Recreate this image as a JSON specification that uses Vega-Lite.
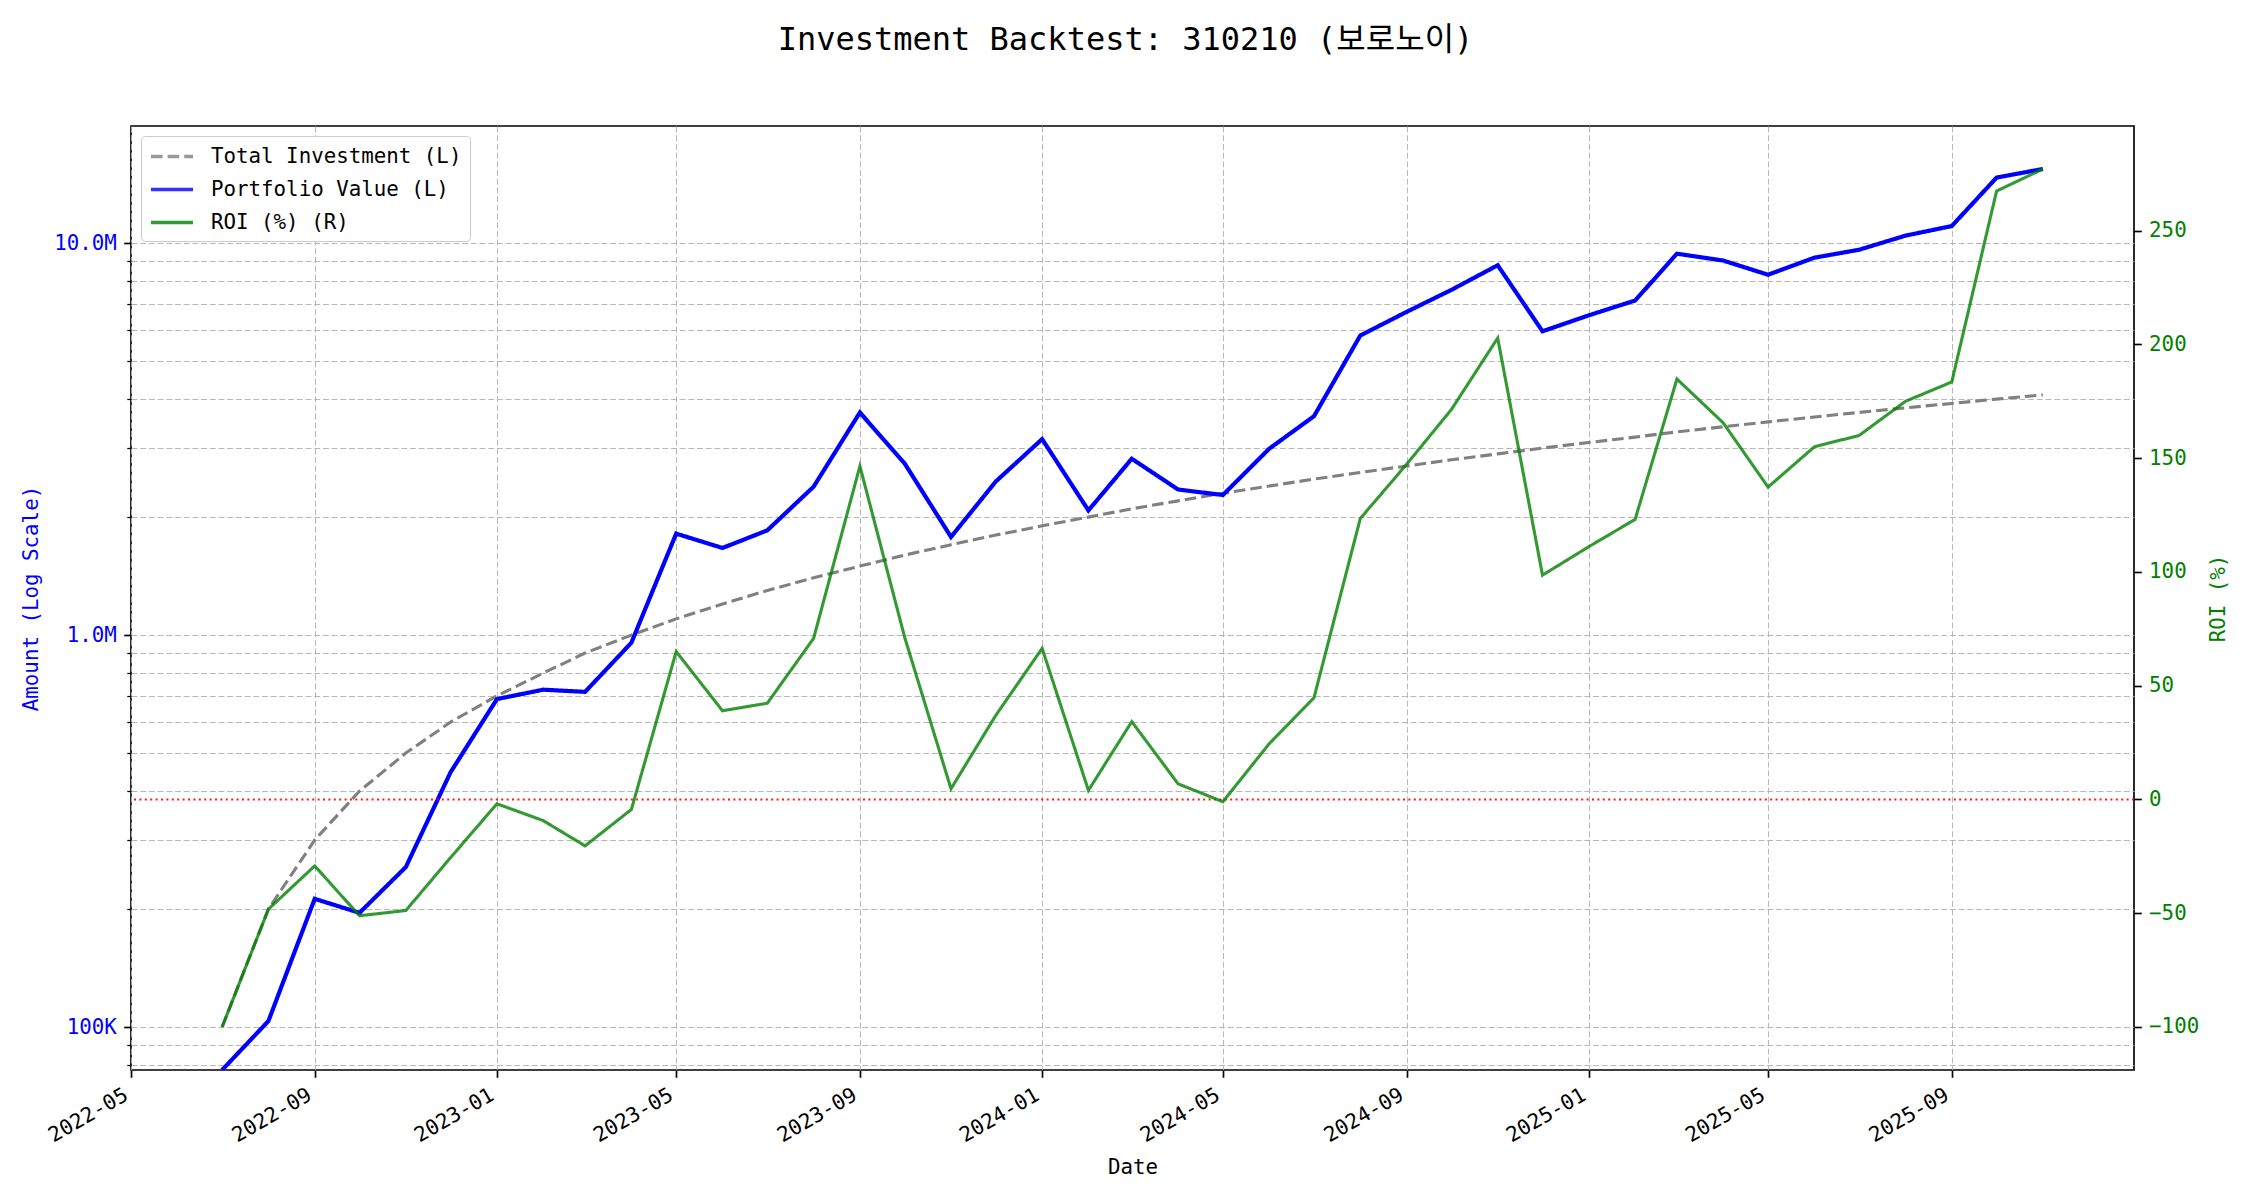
{
  "$schema": "https://vega.github.io/schema/vega-lite/v6.json",
  "width": 2003,
  "height": 944,
  "autosize": {"type": "none"},
  "padding": {"left": 131, "top": 126, "right": 116, "bottom": 130},
  "background": "#ffffff",
  "title": {
    "text": "Investment Backtest: 310210 (보로노이)",
    "font": "DejaVu Sans Mono, Noto Sans CJK KR",
    "fontSize": 32,
    "fontWeight": "normal",
    "color": "#000000",
    "anchor": "middle",
    "frame": "group",
    "baseline": "alphabetic",
    "offset": 44,
    "dx": -7
  },
  "data": {
    "values": [
      {"date": "2022-07-01", "invest": 100000, "portfolio": 0, "roi": -100},
      {"date": "2022-08-01", "invest": 200000, "portfolio": 103600, "roi": -48.2},
      {"date": "2022-09-01", "invest": 300000, "portfolio": 212400, "roi": -29.2},
      {"date": "2022-10-01", "invest": 400000, "portfolio": 195600, "roi": -51.1},
      {"date": "2022-11-01", "invest": 500000, "portfolio": 256000, "roi": -48.8},
      {"date": "2022-12-01", "invest": 600000, "portfolio": 447000, "roi": -25.5},
      {"date": "2023-01-01", "invest": 700000, "portfolio": 686700, "roi": -1.9},
      {"date": "2023-02-01", "invest": 800000, "portfolio": 725600, "roi": -9.3},
      {"date": "2023-03-01", "invest": 900000, "portfolio": 716400, "roi": -20.4},
      {"date": "2023-04-01", "invest": 1000000, "portfolio": 956000, "roi": -4.4},
      {"date": "2023-05-01", "invest": 1100000, "portfolio": 1815000, "roi": 65.0},
      {"date": "2023-06-01", "invest": 1200000, "portfolio": 1668000, "roi": 39.0},
      {"date": "2023-07-01", "invest": 1300000, "portfolio": 1850000, "roi": 42.3},
      {"date": "2023-08-01", "invest": 1400000, "portfolio": 2391000, "roi": 70.8},
      {"date": "2023-09-01", "invest": 1500000, "portfolio": 3698000, "roi": 146.5},
      {"date": "2023-10-01", "invest": 1600000, "portfolio": 2739000, "roi": 71.2},
      {"date": "2023-11-01", "invest": 1700000, "portfolio": 1780000, "roi": 4.7},
      {"date": "2023-12-01", "invest": 1800000, "portfolio": 2466000, "roi": 37.0},
      {"date": "2024-01-01", "invest": 1900000, "portfolio": 3162000, "roi": 66.4},
      {"date": "2024-02-01", "invest": 2000000, "portfolio": 2080000, "roi": 4.0},
      {"date": "2024-03-01", "invest": 2100000, "portfolio": 2818000, "roi": 34.2},
      {"date": "2024-04-01", "invest": 2200000, "portfolio": 2352000, "roi": 6.9},
      {"date": "2024-05-01", "invest": 2300000, "portfolio": 2277000, "roi": -1.0},
      {"date": "2024-06-01", "invest": 2400000, "portfolio": 2988000, "roi": 24.5},
      {"date": "2024-07-01", "invest": 2500000, "portfolio": 3618000, "roi": 44.7},
      {"date": "2024-08-01", "invest": 2600000, "portfolio": 5811000, "roi": 123.5},
      {"date": "2024-09-01", "invest": 2700000, "portfolio": 6677000, "roi": 147.3},
      {"date": "2024-10-01", "invest": 2800000, "portfolio": 7599000, "roi": 171.4},
      {"date": "2024-11-01", "invest": 2900000, "portfolio": 8781000, "roi": 202.8},
      {"date": "2024-12-01", "invest": 3000000, "portfolio": 5958000, "roi": 98.6},
      {"date": "2025-01-01", "invest": 3100000, "portfolio": 6544000, "roi": 111.1},
      {"date": "2025-02-01", "invest": 3200000, "portfolio": 7139000, "roi": 123.1},
      {"date": "2025-03-01", "invest": 3300000, "portfolio": 9398000, "roi": 184.8},
      {"date": "2025-04-01", "invest": 3400000, "portfolio": 9027000, "roi": 165.5},
      {"date": "2025-05-01", "invest": 3500000, "portfolio": 8306000, "roi": 137.3},
      {"date": "2025-06-01", "invest": 3600000, "portfolio": 9180000, "roi": 155.0},
      {"date": "2025-07-01", "invest": 3700000, "portfolio": 9620000, "roi": 160.0},
      {"date": "2025-08-01", "invest": 3800000, "portfolio": 10450000, "roi": 175.0},
      {"date": "2025-09-01", "invest": 3900000, "portfolio": 11057000, "roi": 183.5},
      {"date": "2025-10-01", "invest": 4000000, "portfolio": 14696000, "roi": 267.4},
      {"date": "2025-11-01", "invest": 4100000, "portfolio": 15461000, "roi": 277.1}
    ]
  },
  "layer": [
    {
      "layer": [
        {
          "mark": {"type": "line", "strokeWidth": 3.1, "clip": true},
          "encoding": {
            "x": {
              "field": "date", "type": "temporal",
              "scale": {"type": "utc", "domain": [{"year": 2022, "month": 5, "date": 1, "utc": true}, {"year": 2026, "month": 1, "date": 1, "utc": true}]},
              "axis": {
                "title": "Date", "titleFontSize": 20.8, "titleFontWeight": "normal", "titleColor": "#000000", "titlePadding": 12,
                "values": [
                  {"year": 2022, "month": 5, "date": 1, "utc": true},
                  {"year": 2022, "month": 9, "date": 1, "utc": true},
                  {"year": 2023, "month": 1, "date": 1, "utc": true},
                  {"year": 2023, "month": 5, "date": 1, "utc": true},
                  {"year": 2023, "month": 9, "date": 1, "utc": true},
                  {"year": 2024, "month": 1, "date": 1, "utc": true},
                  {"year": 2024, "month": 5, "date": 1, "utc": true},
                  {"year": 2024, "month": 9, "date": 1, "utc": true},
                  {"year": 2025, "month": 1, "date": 1, "utc": true},
                  {"year": 2025, "month": 5, "date": 1, "utc": true},
                  {"year": 2025, "month": 9, "date": 1, "utc": true}
                ],
                "format": "%Y-%m",
                "labelAngle": -30, "labelAlign": "right", "labelBaseline": "top", "labelOffset": -10,
                "labelFontSize": 20.8, "labelColor": "#000000", "labelPadding": 7.3,
                "labelFlush": false, "labelOverlap": false, "labelBound": false,
                "tickSize": 7.3, "tickWidth": 1.67, "tickColor": "#000000",
                "domain": false,
                "grid": true, "gridColor": "#b0b0b0", "gridDash": [6, 2.7], "gridWidth": 1, "gridOpacity": 0.9
              }
            },
            "y": {
              "field": "invest", "type": "quantitative",
              "scale": {"type": "log", "domain": [77700, 19900000], "clamp": true},
              "axis": {
                "title": "Amount (Log Scale)", "titleColor": "#0000ff", "titleFontSize": 20.8, "titleFontWeight": "normal", "titlePadding": 12,
                "values": [80000, 90000, 100000, 200000, 300000, 400000, 500000, 600000, 700000, 800000, 900000, 1000000, 2000000, 3000000, 4000000, 5000000, 6000000, 7000000, 8000000, 9000000, 10000000],
                "labelExpr": "datum.value == 100000 ? '100K' : datum.value == 1000000 ? '1.0M' : datum.value == 10000000 ? '10.0M' : ''",
                "labelColor": "#0000ff", "labelFontSize": 20.8, "labelPadding": 7.3,
                "labelOverlap": false, "labelFlush": false, "labelBound": false,
                "tickSize": {"condition": {"test": "datum.value == 100000 || datum.value == 1000000 || datum.value == 10000000", "value": 7.3}, "value": 4.2},
                "tickWidth": {"condition": {"test": "datum.value == 100000 || datum.value == 1000000 || datum.value == 10000000", "value": 1.67}, "value": 1.25},
                "tickColor": "#000000",
                "domain": false,
                "grid": true, "gridColor": "#b0b0b0", "gridDash": [6, 2.7], "gridWidth": 1, "gridOpacity": 0.9
              }
            },
            "color": {
              "datum": "Total Investment (L)", "type": "nominal",
              "scale": {"domain": ["Total Investment (L)", "Portfolio Value (L)", "ROI (%) (R)"], "range": ["#808080", "#0000ff", "#008000"]},
              "legend": {
                "orient": "top-left", "offset": 10, "title": null,
                "symbolType": "M-1,0H3", "symbolSize": 441, "symbolStrokeWidth": 3.3,
                "labelFontSize": 20.8, "labelColor": "#000000", "labelOffset": 37, "labelLimit": 500,
                "fillColor": "#ffffff", "strokeColor": "#cccccc", "cornerRadius": 4,
                "padding": 8, "rowPadding": 10
              }
            },
            "strokeDash": {
              "datum": "Total Investment (L)", "type": "nominal",
              "scale": {"domain": ["Total Investment (L)", "Portfolio Value (L)", "ROI (%) (R)"], "range": [[11.6, 5], [1, 0], [1, 0]]},
              "legend": {
                "orient": "top-left", "offset": 10, "title": null,
                "symbolType": "M-1,0H3", "symbolSize": 441, "symbolStrokeWidth": 3.3,
                "labelFontSize": 20.8, "labelColor": "#000000", "labelOffset": 37, "labelLimit": 500,
                "fillColor": "#ffffff", "strokeColor": "#cccccc", "cornerRadius": 4,
                "padding": 8, "rowPadding": 10
              }
            }
          }
        },
        {
          "mark": {"type": "line", "strokeWidth": 4.2, "clip": true},
          "encoding": {
            "x": {"field": "date", "type": "temporal"},
            "y": {"field": "portfolio", "type": "quantitative", "scale": {"type": "log", "domain": [77700, 19900000], "clamp": true}},
            "color": {"datum": "Portfolio Value (L)", "type": "nominal"},
            "strokeDash": {"datum": "Portfolio Value (L)", "type": "nominal"}
          }
        }
      ]
    },
    {
      "layer": [
        {
          "data": {"values": [{}]},
          "mark": {"type": "rule", "color": "#ff0000", "strokeDash": [2, 3.4], "strokeWidth": 2, "opacity": 0.9},
          "encoding": {
            "y": {
              "datum": 0, "type": "quantitative",
              "scale": {"domain": [-118.9, 296], "nice": false, "zero": false},
              "axis": {
                "orient": "right",
                "title": "ROI (%)", "titleColor": "#008000", "titleFontSize": 20.8, "titleFontWeight": "normal", "titleAngle": 270, "titlePadding": 30,
                "values": [-100, -50, 0, 50, 100, 150, 200, 250],
                "format": "d",
                "labelColor": "#008000", "labelFontSize": 20.8, "labelPadding": 7.3,
                "labelOverlap": false, "labelFlush": false, "labelBound": false,
                "tickSize": 7.3, "tickWidth": 1.67, "tickColor": "#000000",
                "domain": false, "grid": false
              }
            }
          }
        },
        {
          "mark": {"type": "line", "strokeWidth": 3.1, "opacity": 0.8, "clip": true},
          "encoding": {
            "x": {"field": "date", "type": "temporal"},
            "y": {"field": "roi", "type": "quantitative", "scale": {"domain": [-118.9, 296], "nice": false, "zero": false}},
            "color": {"datum": "ROI (%) (R)", "type": "nominal"},
            "strokeDash": {"datum": "ROI (%) (R)", "type": "nominal"}
          }
        }
      ]
    }
  ],
  "resolve": {"scale": {"y": "independent"}, "axis": {"y": "independent"}},
  "config": {
    "font": "DejaVu Sans Mono",
    "view": {"stroke": "#000000", "strokeWidth": 1.67},
    "axis": {"labelFont": "DejaVu Sans Mono", "titleFont": "DejaVu Sans Mono"},
    "legend": {"labelFont": "DejaVu Sans Mono"}
  }
}
